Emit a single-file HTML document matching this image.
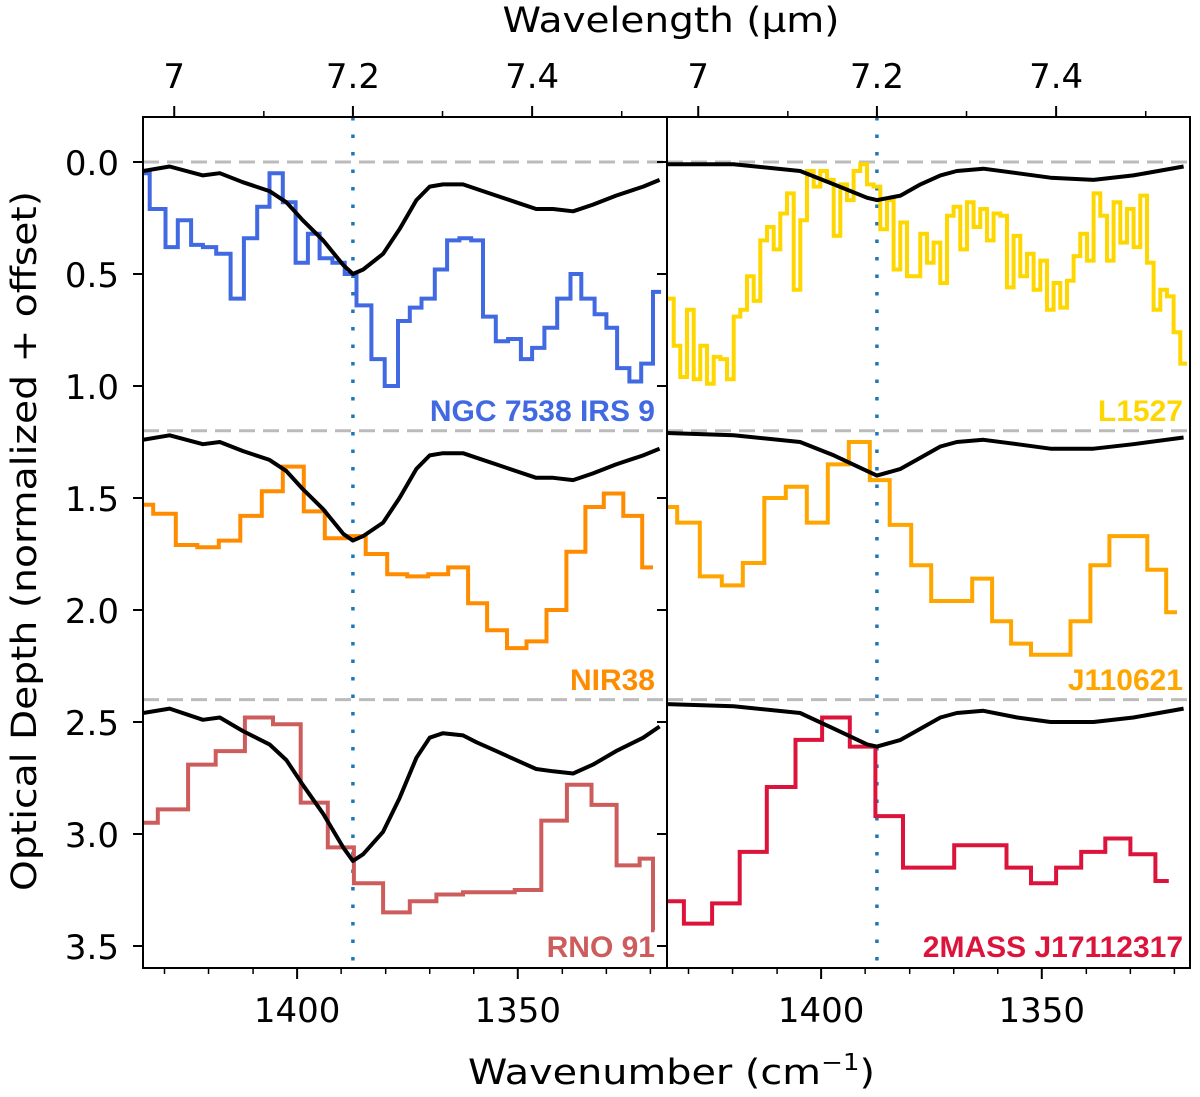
<!DOCTYPE html>
<html><head><meta charset="utf-8"><style>
html,body{margin:0;padding:0;background:#fff;}
svg{display:block;font-family:"DejaVu Sans",sans-serif;}
</style></head><body>
<svg id="chart" width="1200" height="1097" viewBox="0 0 1200 1097" xmlns="http://www.w3.org/2000/svg">
<defs>
<clipPath id="clipL"><rect x="143" y="117" width="524" height="851"/></clipPath>
<clipPath id="clipR"><rect x="667" y="117" width="523" height="851"/></clipPath>
</defs>
<g id="plots"></g>
<g id="axes"></g>
</svg>
<script>
// ---- data (x positions in internal axis units) ----
const bottomTickWn = [1402.5, 1359.4];
const bottomTickLabels = ['1400', '1350'];
const bottomMinorWn = [1428.4, 1419.8, 1411.1, 1393.9, 1385.2, 1376.6, 1368.0, 1350.7, 1342.1, 1333.5];
const topTickWn = [1426.5, 1391.6, 1356.6];
const topMinorWn = [1409.0, 1374.1, 1339.1];
const topTickLabels = ['7', '7.2', '7.4'];
const yTicks = [0.0, 0.5, 1.0, 1.5, 2.0, 2.5, 3.0, 3.5];
const offsets = [0, 1.2, 2.4];
const markerWn = 1391.6;

const refWnL = [1432.6,1427.4,1420.9,1417.6,1413.1,1407.9,1404.6,1401.4,1397.4,1393.5,1391.6,1389.6,1385.7,1382.5,1379.2,1376.6,1374.0,1370.1,1367.5,1363.6,1359.7,1355.8,1352.5,1348.6,1344.7,1340.2,1334.9,1331.7];
const refTopL = [0.04,0.02,0.06,0.05,0.09,0.13,0.18,0.26,0.35,0.46,0.50,0.48,0.41,0.30,0.17,0.11,0.10,0.10,0.12,0.15,0.18,0.21,0.21,0.22,0.19,0.15,0.11,0.08];
const refMidL = [1.24,1.22,1.26,1.25,1.29,1.33,1.38,1.46,1.55,1.66,1.69,1.67,1.61,1.50,1.37,1.31,1.30,1.30,1.32,1.35,1.38,1.41,1.41,1.42,1.39,1.35,1.31,1.28];
const refBotL = [2.46,2.44,2.49,2.48,2.54,2.60,2.67,2.78,2.91,3.06,3.12,3.09,2.99,2.84,2.66,2.57,2.55,2.56,2.59,2.63,2.67,2.71,2.72,2.73,2.69,2.63,2.57,2.52];

const refWnR = [1432.6,1419.6,1406.6,1400.0,1393.5,1391.6,1387.0,1383.1,1379.2,1376.0,1370.8,1364.2,1357.7,1349.3,1341.5,1331.7];
const refTopR = [0.01,0.01,0.04,0.10,0.16,0.17,0.15,0.10,0.06,0.04,0.03,0.05,0.07,0.08,0.06,0.02];
const refMidR = [1.21,1.22,1.25,1.31,1.38,1.40,1.37,1.32,1.27,1.25,1.24,1.26,1.28,1.28,1.26,1.23];
const refBotR = [2.42,2.43,2.46,2.53,2.60,2.61,2.58,2.53,2.48,2.46,2.45,2.48,2.50,2.50,2.48,2.44];

const ngcEdges = [1432.6,1431.3,1428.2,1425.8,1423.2,1420.9,1418.3,1415.5,1412.9,1410.3,1407.9,1405.3,1402.8,1400.4,1398.1,1395.6,1393.2,1390.9,1388.0,1385.4,1382.8,1380.5,1378.2,1375.6,1373.2,1370.8,1368.5,1366.2,1363.7,1361.3,1358.8,1356.6,1354.2,1351.7,1349.1,1347.0,1344.4,1342.1,1340.0,1337.6,1335.3,1333.0,1331.4];
const ngcVals = [0.05,0.21,0.38,0.26,0.37,0.38,0.41,0.61,0.34,0.20,0.05,0.18,0.45,0.32,0.43,0.45,0.50,0.64,0.88,1.00,0.71,0.65,0.61,0.48,0.35,0.34,0.35,0.69,0.80,0.79,0.88,0.83,0.74,0.61,0.50,0.61,0.68,0.74,0.92,0.98,0.90,0.58];

const nirEdges = [1432.6,1430.6,1426.2,1422.0,1417.8,1413.6,1409.4,1405.3,1401.2,1397.1,1393.0,1389.1,1384.9,1381.0,1376.9,1373.0,1369.1,1365.4,1361.5,1357.7,1353.8,1349.9,1346.2,1342.6,1338.8,1335.1,1333.0];
const nirVals = [1.53,1.57,1.71,1.72,1.69,1.58,1.47,1.36,1.56,1.68,1.67,1.75,1.84,1.85,1.84,1.81,1.97,2.09,2.17,2.14,2.00,1.74,1.54,1.48,1.58,1.81];

const rnoEdges = [1432.6,1429.7,1423.8,1418.4,1412.7,1407.2,1401.8,1396.5,1391.4,1385.7,1380.5,1375.3,1370.1,1360.0,1354.8,1349.8,1345.0,1340.1,1335.6,1333.0,1332.7];
const rnoVals = [2.95,2.89,2.69,2.63,2.48,2.51,2.86,3.06,3.22,3.35,3.30,3.27,3.26,3.25,2.94,2.78,2.87,3.14,3.11,3.43];

const jEdges = [1432.6,1430.6,1426.2,1421.9,1417.8,1413.6,1409.4,1405.3,1401.2,1397.1,1393.0,1389.1,1384.9,1381.0,1376.9,1373.0,1369.1,1365.4,1361.5,1353.8,1349.9,1346.2,1338.8,1335.1,1333.0];
const jVals = [1.54,1.61,1.85,1.89,1.79,1.50,1.45,1.61,1.35,1.25,1.42,1.62,1.80,1.96,1.96,1.86,2.05,2.15,2.20,2.05,1.80,1.67,1.82,2.01];

const mEdges = [1432.6,1429.3,1423.8,1418.4,1413.1,1407.5,1402.3,1396.9,1391.9,1386.5,1376.5,1366.3,1361.5,1356.6,1351.7,1347.0,1342.1,1337.2,1334.6];
const mVals = [3.30,3.40,3.31,3.08,2.79,2.58,2.48,2.61,2.92,3.15,3.05,3.15,3.22,3.15,3.08,3.02,3.09,3.21];

const l1527Start = 1431.95;
const l1527Step = 1.302;
const l1527Vals = [0.61,0.82,0.96,0.66,0.97,0.82,0.99,0.87,0.88,0.97,0.69,0.66,0.51,0.62,0.35,0.29,0.39,0.23,0.14,0.57,0.26,0.04,0.11,0.04,0.08,0.33,0.10,0.17,0.04,0.01,0.10,0.11,0.30,0.17,0.48,0.27,0.51,0.51,0.32,0.45,0.36,0.54,0.24,0.20,0.39,0.18,0.29,0.21,0.35,0.23,0.24,0.56,0.33,0.51,0.41,0.57,0.44,0.66,0.54,0.65,0.53,0.42,0.32,0.44,0.14,0.24,0.44,0.18,0.36,0.21,0.38,0.15,0.45,0.66,0.57,0.60,0.76,0.90];

// ---- scales ----
const WN0 = 1432.6, PXW = 5.12;
const panelLeft = [143, 667];
function xs(wn, p){ return panelLeft[p] + (WN0 - wn) * PXW; }
function ys(v){ return 162 + 224 * v; }
const NS = 'http://www.w3.org/2000/svg';
function mk(tag, attrs, parent){
  const e = document.createElementNS(NS, tag);
  for (const k in attrs) e.setAttribute(k, attrs[k]);
  parent.appendChild(e); return e;
}
const plots = document.getElementById('plots');
const axes = document.getElementById('axes');
const gL = mk('g', {'clip-path':'url(#clipL)'}, plots);


const gR = mk('g', {'clip-path':'url(#clipR)'}, plots);


const groups = [gL, gR];

offsets.forEach(function(o){
  [0,1].forEach(function(p){
    const l = mk('line', {x1: panelLeft[p], x2: panelLeft[p]+524, y1: ys(o), y2: ys(o), stroke:'#bbbbbb', 'stroke-width':3, 'stroke-dasharray':'16 8'}, groups[p]);
    
    
  });
});
[0,1].forEach(function(p){
  const l = mk('line', {x1: xs(markerWn,p), x2: xs(markerWn,p), y1: 117, y2: 968, stroke:'#1f77b4', 'stroke-width':3.5, 'stroke-dasharray':'3.5 14'}, groups[p]);
  
  
});

function stepPath(edges, vals, p){
  let d = '';
  for (let i = 0; i < vals.length; i++){
    const x0 = xs(edges[i], p), x1 = xs(edges[i+1], p), y = ys(vals[i]);
    d += (i === 0 ? 'M' : 'L') + x0.toFixed(1) + ',' + y.toFixed(1) + 'L' + x1.toFixed(1) + ',' + y.toFixed(1);
  }
  return d;
}
function drawStep(edges, vals, p, color, name){
  const e = mk('path', {d: stepPath(edges, vals, p), fill:'none', stroke: color, 'stroke-width':4, 'stroke-linejoin':'miter'}, groups[p]);
  
  
}
drawStep(ngcEdges, ngcVals, 0, '#4169e1', 'ngc7538-irs9-spectrum');
drawStep(nirEdges, nirVals, 0, '#ff8c00', 'nir38-spectrum');
drawStep(rnoEdges, rnoVals, 0, '#cd5c5c', 'rno91-spectrum');
drawStep(jEdges, jVals, 1, '#ffa500', 'j110621-spectrum');
drawStep(mEdges, mVals, 1, '#dc143c', '2mass-j17112317-spectrum');

(function(){
  const edges = [];
  for (let i = 0; i <= l1527Vals.length; i++) edges.push(l1527Start + l1527Step/2 - i * l1527Step);
  drawStep(edges, l1527Vals, 1, '#ffd700', 'l1527-spectrum');
})();

function drawRef(wns, vals, p, name){
  let d = '';
  for (let i = 0; i < vals.length; i++) d += (i ? 'L' : 'M') + xs(wns[i],p).toFixed(1) + ',' + ys(vals[i]).toFixed(1);
  const e = mk('path', {d: d, fill:'none', stroke:'#000', 'stroke-width':4, 'stroke-linejoin':'round'}, groups[p]);
  
  
}
drawRef(refWnL, refTopL, 0, 'reference-curve-top-left');
drawRef(refWnL, refMidL, 0, 'reference-curve-middle-left');
drawRef(refWnL, refBotL, 0, 'reference-curve-bottom-left');
drawRef(refWnR, refTopR, 1, 'reference-curve-top-right');
drawRef(refWnR, refMidR, 1, 'reference-curve-middle-right');
drawRef(refWnR, refBotR, 1, 'reference-curve-bottom-right');

[0,1].forEach(function(p){
  const r = mk('rect', {x: panelLeft[p], y:117, width: p ? 523 : 524, height:851, fill:'none', stroke:'#000', 'stroke-width':2}, axes);
  
  
});
yTicks.forEach(function(v){
  const y = ys(v);
  const t = mk('line', {x1:133, x2:143, y1:y, y2:y, stroke:'#000', 'stroke-width':2}, axes);
  
  
  const t2 = mk('line', {x1:657, x2:667, y1:y, y2:y, stroke:'#000', 'stroke-width':2}, axes);
  
  
  const lb = mk('text', {x:119, y:y+13, 'text-anchor':'end', 'font-size':34, fill:'#000'}, axes);
  lb.textContent = v.toFixed(1);
  
  
});
[0,1].forEach(function(p){
  bottomTickWn.forEach(function(w, i){
    const x = xs(w,p);
    const t = mk('line', {x1:x, x2:x, y1:968, y2:979, stroke:'#000', 'stroke-width':2}, axes);
    
    
    const lb = mk('text', {x:x, y:1022, 'text-anchor':'middle', 'font-size':34, fill:'#000'}, axes);
    lb.textContent = bottomTickLabels[i];
    
    
  });
  bottomMinorWn.forEach(function(w){
    const x = xs(w,p);
    const t = mk('line', {x1:x, x2:x, y1:968, y2:974, stroke:'#000', 'stroke-width':1.5}, axes);
    
    
  });
  topTickWn.forEach(function(w, i){
    const x = xs(w,p);
    const t = mk('line', {x1:x, x2:x, y1:106, y2:117, stroke:'#000', 'stroke-width':2}, axes);
    
    
    const lb = mk('text', {x:x, y:88, 'text-anchor':'middle', 'font-size':34, fill:'#000'}, axes);
    lb.textContent = topTickLabels[i];
    
    
  });
  topMinorWn.forEach(function(w){
    const x = xs(w,p);
    const t = mk('line', {x1:x, x2:x, y1:111, y2:117, stroke:'#000', 'stroke-width':1.5}, axes);
    
    
  });
});
</script>
<svg style="position:absolute;left:0;top:0" width="1200" height="1097" xmlns="http://www.w3.org/2000/svg" font-family="DejaVu Sans, sans-serif">
<text x="671" y="32" text-anchor="middle" font-size="35" textLength="337" lengthAdjust="spacingAndGlyphs">Wavelength (µm)</text>
<text x="468" y="1084" font-size="35" textLength="407" lengthAdjust="spacingAndGlyphs">Wavenumber (cm<tspan dy="-14" font-size="23">−1</tspan><tspan dy="14">)</tspan></text>
<text transform="translate(36,541) rotate(-90)" text-anchor="middle" font-size="35" textLength="700" lengthAdjust="spacingAndGlyphs">Optical Depth (normalized + offset)</text>
<g font-weight="bold" font-size="30" text-anchor="end" font-family="Liberation Sans, sans-serif">
<text x="655" y="421" fill="#4169e1">NGC 7538 IRS 9</text>
<text x="1183" y="421" fill="#ffd700">L1527</text>
<text x="655" y="690" fill="#ff8c00">NIR38</text>
<text x="1183" y="690" fill="#ffa500">J110621</text>
<text x="655" y="957" fill="#cd5c5c">RNO 91</text>
<text x="1183" y="957" fill="#dc143c">2MASS J17112317</text>
</g>
</svg>
</body></html>
